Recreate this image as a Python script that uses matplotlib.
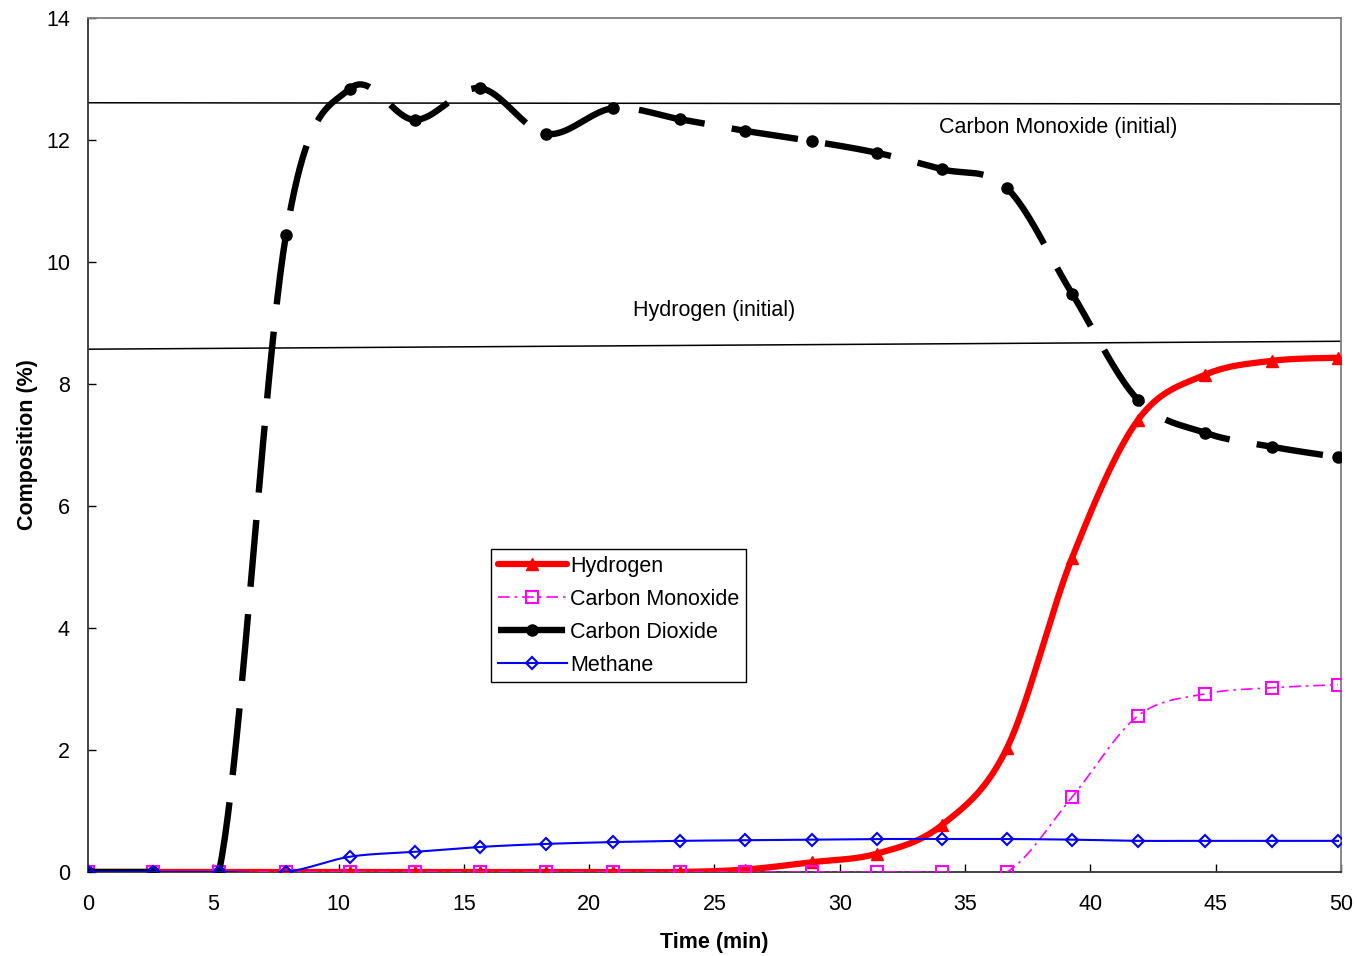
import numpy as np
import matplotlib
matplotlib.use("Agg")
import matplotlib.pyplot as plt

plt.rcParams['font.family'] = ['Liberation Sans', 'DejaVu Sans']

# Sampling times (min)
time = [0.0, 2.59, 5.23, 7.90, 10.45, 13.05, 15.64, 18.28, 20.95, 23.62,
        26.22, 28.89, 31.48, 34.08, 36.67, 39.27, 41.90, 44.57, 47.25, 49.88]

# Gas composition (%)
hydrogen = [0.0, 0.0, 0.0, 0.0, 0.0, 0.0, 0.0, 0.0, 0.0, 0.0,
            0.04, 0.16, 0.30, 0.77, 2.03, 5.15, 7.41, 8.15, 8.38, 8.43]
carbon_monoxide = [0.0, 0.0, 0.0, 0.0, 0.0, 0.0, 0.0, 0.0, 0.0, 0.0,
                   0.0, 0.0, 0.0, 0.0, 0.0, 1.23, 2.56, 2.92, 3.02, 3.07]
carbon_dioxide = [0.0, 0.0, 0.0, 10.44, 12.84, 12.33, 12.85, 12.10, 12.52, 12.34,
                  12.15, 11.98, 11.79, 11.52, 11.21, 9.48, 7.74, 7.20, 6.97, 6.80]
methane = [0.0, 0.0, 0.0, 0.0, 0.25, 0.33, 0.41, 0.46, 0.49, 0.51,
           0.52, 0.53, 0.54, 0.54, 0.54, 0.53, 0.51, 0.51, 0.51, 0.51]

# Initial feed compositions (reference lines)
ref_x = [0.0, 50.0]
co_initial = [12.61, 12.59]
h2_initial = [8.57, 8.70]

N_SEG = 24
FS = 15.5


def smooth(x, y, n=N_SEG):
    """Catmull-Rom Bezier smoothing through every data point."""
    pts = np.column_stack([x, y]).astype(float)
    P = np.vstack([pts[0], pts, pts[-1]])
    out = []
    t = np.linspace(0, 1, n)[:, None]
    for i in range(1, len(P) - 2):
        p0, p1, p2, p3 = P[i - 1], P[i], P[i + 1], P[i + 2]
        c1 = p1 + (p2 - p0) / 6.0
        c2 = p2 - (p3 - p1) / 6.0
        seg = ((1 - t) ** 3) * p1 + 3 * ((1 - t) ** 2) * t * c1 \
            + 3 * (1 - t) * (t ** 2) * c2 + (t ** 3) * p2
        out.append(seg if i == 1 else seg[1:])
    s = np.vstack(out)
    return s[:, 0], s[:, 1]


marks = [i * (N_SEG - 1) for i in range(len(time))]

fig = plt.figure(figsize=(13.57, 9.56), dpi=100)
ax = fig.add_axes([0.0648, 0.0879, 0.9234, 0.8933])

ax.plot(ref_x, co_initial, color='black', lw=1.1, zorder=1)
ax.plot(ref_x, h2_initial, color='black', lw=1.1, zorder=1)

sx, sy = smooth(time, hydrogen)
ax.plot(sx, sy, color='#ff0000', lw=4.5, marker='^', markersize=8,
        markevery=marks, solid_capstyle='round', label='Hydrogen', zorder=3)

sx, sy = smooth(time, carbon_monoxide)
ax.plot(sx, sy, color='#ff00ff', lw=1.2, linestyle=(0, (7, 3, 1.5, 3)),
        marker='s', markersize=8, markerfacecolor='none', markeredgewidth=1.5,
        markevery=marks, label='Carbon Monoxide', zorder=4)

sx, sy = smooth(time, carbon_dioxide)
ax.plot(sx, sy, color='black', lw=4.6, linestyle=(0, (10.5, 4.3)),
        marker='o', markersize=8, markevery=marks, label='Carbon Dioxide', zorder=5)

sx, sy = smooth(time, methane)
ax.plot(sx, sy, color='#0000ff', lw=1.5, marker='D', markersize=6.5,
        markerfacecolor='none', markeredgewidth=1.5,
        markevery=marks, label='Methane', zorder=6)

ax.text(38.7, 12.21, 'Carbon Monoxide (initial)', fontsize=FS,
        ha='center', va='center')
ax.text(25.0, 9.2, 'Hydrogen (initial)', fontsize=FS,
        ha='center', va='center')

ax.set_xlim(0, 50)
ax.set_ylim(0, 14)
ax.set_xticks(np.arange(0, 51, 5))
ax.set_yticks(np.arange(0, 15, 2))
ax.tick_params(direction='in', length=6, width=1, labelsize=FS)
ax.tick_params(axis='x', pad=16)
ax.tick_params(axis='y', pad=13)

for side in ('left', 'bottom'):
    ax.spines[side].set_color('#333333')
    ax.spines[side].set_linewidth(1.3)
for side in ('top', 'right'):
    ax.spines[side].set_color('#808080')
    ax.spines[side].set_linewidth(1.3)

ax.set_xlabel('Time (min)', fontsize=FS, fontweight='bold', labelpad=12)
ax.set_ylabel('Composition (%)', fontsize=FS, fontweight='bold', labelpad=6)

leg = ax.legend(loc='upper left', bbox_to_anchor=(0.322, 0.378),
                fontsize=FS, frameon=True, fancybox=False, edgecolor='black',
                framealpha=1, handlelength=3.2, handletextpad=0.15,
                borderpad=0.3, labelspacing=0.56, borderaxespad=0)
leg.get_frame().set_linewidth(1.0)

fig.savefig('out.png', dpi=100)
